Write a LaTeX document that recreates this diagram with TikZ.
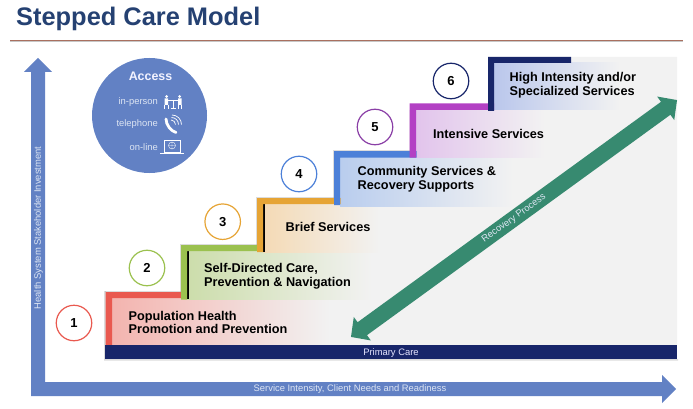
\documentclass[tikz,border=0pt]{standalone}
\usepackage{fontspec}
\setmainfont{Liberation Sans}
\definecolor{axisblue}{HTML}{6281C4}
\definecolor{navy}{HTML}{18266A}
\definecolor{bgray}{HTML}{F2F2F2}
\definecolor{recgreen}{HTML}{378A70}
\definecolor{cred}{HTML}{E9594F}
\definecolor{cgreen}{HTML}{9BC14F}
\definecolor{corange}{HTML}{E6A435}
\definecolor{cblue}{HTML}{4C80D8}
\definecolor{cpurple}{HTML}{B341C4}
\definecolor{cpurpled}{HTML}{8A3FA6}
\definecolor{titleblue}{HTML}{254172}
\definecolor{lighttext}{HTML}{DDE5F3}
\definecolor{rulecol}{HTML}{A9705F}
\definecolor{fred}{HTML}{F3B4AF}
\definecolor{fgreen}{HTML}{CCDDAB}
\definecolor{forange}{HTML}{F4DAB5}
\definecolor{fblue}{HTML}{B9CDEE}
\definecolor{fpurple}{HTML}{E2C4EC}
\definecolor{fnavy}{HTML}{BAC7EC}
\tikzset{
  numcircle/.style={circle,draw=#1,line width=1.2pt,fill=white,minimum size=35.5pt,inner sep=0pt,font=\fontsize{13}{14}\selectfont\bfseries},
  steptext/.style={anchor=west,align=left,font=\fontsize{12.7}{14}\selectfont\bfseries,text=black,inner sep=0pt},
  smalltext/.style={text=lighttext,font=\fontsize{9.4}{11}\selectfont,inner sep=0pt},
  accesstext/.style={smalltext,anchor=east},
  icon/.style={draw=white,line width=0.6pt,fill=none},
  softshadow/.style={fill=black!45,opacity=0.3}
}
\begin{document}
\begin{tikzpicture}[x=1pt,y=-1pt]
\useasboundingbox (0,0) rectangle (693,409);
% title
\node[anchor=base west,inner sep=0pt,text=titleblue,font=\fontsize{25.4}{28}\selectfont\bfseries] (title) at (16,26) {Stepped Care Model};
\fill[black!22] (10,40.6) rectangle (683,42);
\fill[rulecol] (10,40) rectangle (683,41);
% axes
\path[fill=axisblue] (31,396) -- (31,72) -- (24,72) -- (38,58) -- (52,72) -- (45,72) -- (45,382) -- (662,382) -- (662,375) -- (676,389) -- (662,403) -- (662,396) -- cycle;
\node[smalltext,rotate=90] (yaxis) at (38.5,228) {Health System Stakeholder Investment};
\node[smalltext] (xaxis) at (350,389.5) {Service Intensity, Client Needs and Readiness};
% gray staircase
\fill[softshadow] (104,291) -- (104,360.5) -- (678,360.5) -- (678,359) -- (106,359) -- (106,291) -- cycle;
\fill[bgray] (112,298) -- (181,298) -- (181,251) -- (257,251) -- (257,204) -- (334,204) -- (334,157) -- (409,157) -- (409,110) -- (488,110) -- (488,57) -- (677,57) -- (677,345) -- (112,345) -- cycle;
% step fills
\shade[left color=fred,right color=bgray] (112,298) rectangle (330,345);
\shade[left color=fgreen,right color=bgray] (187,251) rectangle (372,299);
\shade[left color=forange,right color=bgray] (263,204) rectangle (380,252);
\shade[left color=fblue,right color=bgray] (340,157) rectangle (513,206);
\shade[left color=fpurple,right color=bgray] (416,110) rectangle (545,157);
\shade[left color=fnavy,right color=bgray] (494,63) rectangle (620,110);
% step frame shadows
\fill[softshadow] (104.5,291) rectangle (186,292);
\fill[softshadow] (180,244) rectangle (181,292) (180,244) rectangle (262,245);
\fill[softshadow] (256,197) rectangle (257,245) (256,197) rectangle (340,198);
\fill[softshadow] (333,150) rectangle (334,198) (333,150) rectangle (416,151);
% step frames
\fill[cred] (105.5,345) -- (105.5,292) -- (186,292) -- (186,298) -- (112,298) -- (112,345) -- cycle;
\fill[black] (187,251) rectangle (189,299);
\fill[cgreen] (181,299.5) -- (181,245) -- (262,245) -- (262,251) -- (187,251) -- (187,299.5) -- cycle;
\fill[black] (263,204) rectangle (264.5,252);
\fill[corange] (257,252) -- (257,198) -- (340.5,198) -- (340.5,204) -- (263,204) -- (263,252) -- cycle;
\fill[cblue] (334,205) -- (334,151) -- (416.5,151) -- (416.5,157.5) -- (340,157.5) -- (340,205) -- cycle;
\fill[cpurple] (409.5,157.5) -- (409.5,103.5) -- (494,103.5) -- (494,110) -- (416,110) -- (416,157.5) -- cycle;
\fill[navy] (488,111) -- (488,57) -- (571,57) -- (571,63) -- (494,63) -- (494,111) -- cycle;
% primary care bar
\fill[navy] (105,345) rectangle (677,359);
\node[smalltext,text=white!90!blue] (primary) at (391,353) {Primary Care};
% step labels
\node[steptext,font=\fontsize{12.7}{13}\selectfont\bfseries] (s1) at (128.5,322) {Population Health\\Promotion and Prevention};
\node[steptext] (s2) at (204,276) {Self-Directed Care,\\Prevention \& Navigation};
\node[steptext] (s3) at (285.5,226.5) {Brief Services};
\node[steptext] (s4) at (357.5,179) {Community Services \&\\Recovery Supports};
\node[steptext] (s5) at (433,133.5) {Intensive Services};
\node[steptext] (s6) at (509.5,85) {High Intensity and/or\\Specialized Services};
% numbered circles
\node[numcircle=cred] (n1) at (74,323) {1};
\node[numcircle=cgreen] (n2) at (147,268) {2};
\node[numcircle=corange] (n3) at (222.7,221.7) {3};
\node[numcircle=cblue] (n4) at (299,174) {4};
\node[numcircle=cpurpled] (n5) at (375,127) {5};
\node[numcircle=navy] (n6) at (451,81) {6};
% recovery arrow
\begin{scope}[shift={(514,218.5)},rotate=36]
\fill[recgreen] (-201.5,0) -- (-187.5,-14.5) -- (-187.5,-8) -- (187.5,-8) -- (187.5,-14.5) -- (201.5,0) -- (187.5,14.5) -- (187.5,8) -- (-187.5,8) -- (-187.5,14.5) -- cycle;
\node[smalltext,rotate=36] (rec) at (0,0) {Recovery Process};
\end{scope}
% access circle
\node[circle,fill=axisblue,minimum size=115pt,inner sep=0pt] (access) at (149.5,115.5) {};
\node[inner sep=0pt,text=white!95!blue,font=\fontsize{12.4}{13}\selectfont\bfseries] (acctitle) at (150.5,76) {Access};
\node[accesstext] (a1) at (158,102.5) {in-person};
\node[accesstext] (a2) at (158,124) {telephone};
\node[accesstext] (a3) at (158,147) {on-line};
% in-person icon
\begin{scope}[shift={(173,103)}]
\draw[icon] (-5,-3) -- (5,-3) (0,-3) -- (0,5) (-2.5,5) -- (2.5,5);
\fill[white] (-6.5,-6.5) circle (1.5) (6.5,-6.5) circle (1.5);
\fill[white] (-8.5,-4.5) rectangle (-5,2) (5,-4.5) rectangle (8.5,2);
\draw[icon] (-8.5,2) -- (-8.5,6) (-5,2) -- (-5,6) (5,2) -- (5,6) (8.5,2) -- (8.5,6);
\end{scope}
% telephone icon
\begin{scope}[shift={(172,125)}]
\draw[white,line width=2.8pt,line cap=round] (-6,-6) .. controls (-6,0) and (-1,6) .. (4,7.5);
\draw[white,line width=.7pt] (-1,-5) arc (-90:0:4.5);
\draw[white,line width=.7pt] (-.5,-7.5) arc (-90:0:7);
\draw[white,line width=.7pt] (0,-10) arc (-90:0:9.5);
\end{scope}
% laptop icon
\begin{scope}[shift={(172,147)}]
\draw[icon] (-8,5) -- (-8,-7) -- (8,-7) -- (8,5) -- cycle;
\draw[white,line width=1pt] (-12,6) -- (12,6);
\draw[white,line width=.4pt] (0,-1.5) circle (3.5) (-3.5,-1.5) -- (3.5,-1.5) (0,-5) -- (0,2);
\end{scope}
\end{tikzpicture}
\end{document}
